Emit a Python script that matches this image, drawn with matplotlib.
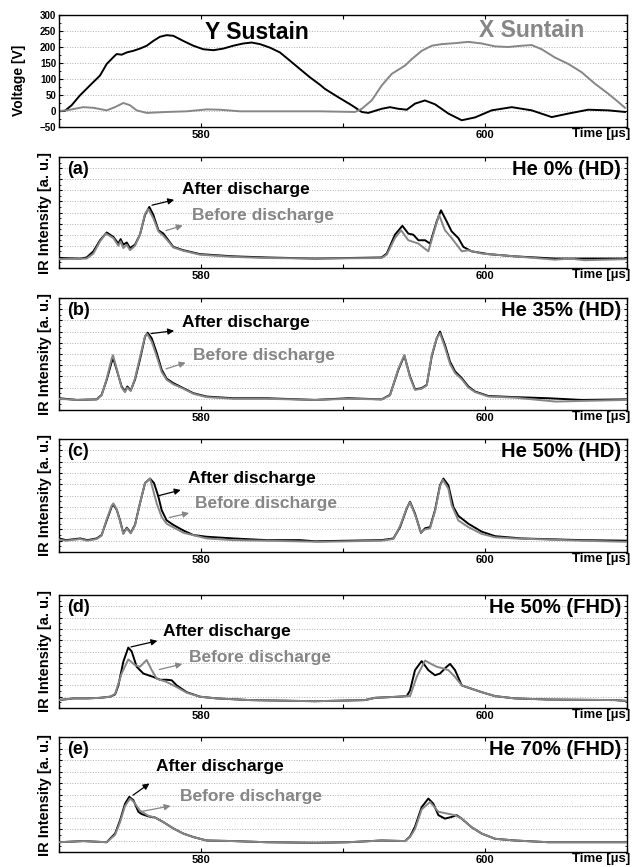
import numpy as np
import matplotlib
matplotlib.use("Agg")
import matplotlib.pyplot as plt
from matplotlib.ticker import MultipleLocator, NullFormatter, FixedFormatter, FixedLocator

plt.rcParams["font.family"] = ["Liberation Sans", "DejaVu Sans"]
plt.rcParams["font.weight"] = "bold"

GRAY = "#868686"

# ---- voltage waveforms (top panel) ----
y_sus_t = [570.0, 570.4, 570.89, 571.48, 572.18, 572.89, 573.36, 573.8, 574.06, 574.42,
           574.77, 575.23, 575.7, 576.18, 576.64, 577.11, 577.58, 578.05, 578.75, 579.46,
           580.16, 580.87, 581.57, 582.27, 582.98, 583.57, 584.15, 584.86, 585.56, 586.27,
           586.97, 587.68, 588.38, 588.73, 589.67, 590.61, 591.32, 591.78, 592.73, 593.31,
           593.89, 594.49, 595.07, 595.77, 596.48, 597.42, 598.36, 599.3, 600.47, 601.88,
           603.29, 604.7, 605.87, 607.27, 608.68, 609.86]
y_sus_v = [0, 0, 18, 49, 80, 111, 147, 167, 178, 176,
           183, 188, 195, 204, 219, 232, 237, 235, 219, 204,
           193, 190, 195, 204, 211, 214, 209, 198, 183, 157,
           131, 105, 82, 69, 43, 18, -3, -6, 7, 12,
           7, 4, 23, 33, 21, -8, -29, -20, 2, 12,
           2, -19, -8, 4, 2, -3]

x_sus_t = [570.0, 570.54, 571.71, 572.42, 573.36, 573.94, 574.53, 575.0, 575.47, 576.18,
           577.58, 578.99, 580.4, 581.34, 582.75, 584.63, 588.38, 590.85, 591.32, 592.02,
           592.73, 593.43, 594.37, 594.84, 595.54, 596.25, 596.95, 597.89, 598.82, 599.77,
           600.7, 601.64, 602.58, 603.29, 603.99, 604.93, 605.87, 606.81, 607.75, 608.68,
           609.39, 609.86]
x_sus_v = [0, 2, 12, 10, 2, 12, 25, 18, 2, -6,
           -3, -1, 5, 4, -1, -1, -1, -3, 7, 33,
           80, 116, 142, 162, 188, 204, 209, 212, 216, 211,
           202, 200, 204, 206, 193, 167, 147, 121, 85, 54,
           28, 10]

# ---- IR intensity, (a) He 0% (HD) ----
a_after_t = [570.0, 571.5, 571.95, 572.42, 572.89, 573.36, 573.83, 574.18, 574.34, 574.53,
             574.77, 575.0, 575.35, 575.7, 576.06, 576.36, 576.64, 577.0, 577.35, 577.7,
             578.05, 578.76, 579.93, 582.28, 584.63, 588.03, 592.72, 593.08, 593.66, 594.18,
             594.6, 594.95, 595.31, 595.78, 596.13, 596.6, 596.9, 597.3, 597.65, 598.12,
             598.48, 599.06, 600.24, 602.11, 604.93, 610.0]
a_after_v = [0.9, 0.85, 0.95, 1.5, 2.5, 3.2, 2.8, 2.2, 2.6, 2.1,
             2.3, 1.8, 2.1, 3.0, 4.8, 5.5, 4.8, 3.4, 3.1, 2.5,
             1.9, 1.6, 1.25, 1.05, 0.95, 0.85, 0.95, 1.3, 3.0, 3.8,
             3.1, 3.0, 2.5, 2.5, 2.2, 4.2, 5.2, 4.2, 3.3, 2.7,
             1.9, 1.5, 1.25, 1.05, 0.85, 0.85]
a_before_t = [570.0, 571.95, 572.42, 572.89, 573.3, 573.83, 574.18, 574.34, 574.53, 574.77,
              575.0, 575.35, 575.7, 576.06, 576.29, 576.64, 577.0, 577.35, 577.7, 578.05,
              578.76, 579.93, 582.28, 584.63, 588.03, 592.72, 593.08, 593.66, 594.09, 594.6,
              595.31, 596.01, 596.76, 597.18, 597.65, 598.36, 598.83, 599.77, 602.11, 604.93,
              606.0, 607.0, 610.0]
a_before_v = [0.8, 0.85, 1.3, 2.4, 3.1, 2.7, 2.0, 2.4, 1.8, 2.1,
              1.6, 2.0, 3.0, 4.9, 5.3, 4.5, 3.3, 2.9, 2.4, 1.85,
              1.55, 1.2, 1.0, 0.9, 0.85, 0.9, 1.2, 2.7, 3.4, 2.5,
              2.2, 1.5, 4.8, 3.4, 2.7, 1.5, 1.6, 1.3, 1.05, 0.75,
              0.85, 0.7, 0.8]

# ---- (b) He 35% (HD) ----
b_after_t = [570.0, 571.25, 572.65, 573.0, 573.36, 573.71, 573.83, 574.06, 574.41, 574.65,
             574.81, 575.05, 575.35, 575.7, 576.06, 576.24, 576.53, 576.88, 577.23, 577.58,
             578.05, 578.76, 579.46, 580.4, 582.28, 584.63, 588.03, 590.38, 592.72, 593.31,
             593.9, 594.32, 594.72, 595.07, 595.54, 595.9, 596.25, 596.6, 596.83, 597.18,
             597.54, 597.89, 598.36, 598.83, 599.3, 600.24, 602.11, 604.46, 606.81, 610.0]
b_after_v = [1.05, 0.9, 0.95, 1.35, 2.7, 4.3, 4.55, 3.6, 2.1, 1.65,
             2.1, 1.75, 2.7, 4.5, 6.55, 6.9, 6.4, 5.1, 3.6, 2.8,
             2.4, 1.95, 1.5, 1.2, 1.05, 1.05, 0.9, 1.05, 0.95, 1.35,
             3.6, 4.85, 3.0, 1.85, 1.95, 2.25, 4.8, 6.4, 7.0, 5.8,
             4.3, 3.45, 2.85, 2.1, 1.65, 1.25, 1.15, 1.05, 0.9, 0.95]
b_before_t = [570.0, 571.25, 572.65, 573.0, 573.36, 573.71, 573.8, 574.06, 574.41, 574.65,
              574.81, 575.05, 575.35, 575.7, 576.06, 576.2, 576.53, 576.88, 577.23, 577.58,
              578.05, 578.76, 579.46, 580.4, 582.28, 584.63, 588.03, 590.38, 592.72, 593.31,
              593.9, 594.32, 594.72, 595.07, 595.54, 595.9, 596.25, 596.6, 596.83, 597.18,
              597.54, 597.89, 598.36, 598.83, 599.3, 600.24, 602.11, 605.0, 606.5, 610.0]
b_before_v = [1.0, 0.9, 0.95, 1.3, 2.8, 4.6, 4.9, 3.7, 2.0, 1.6,
              2.0, 1.7, 2.8, 4.7, 6.6, 6.8, 6.1, 4.8, 3.4, 2.7,
              2.3, 1.9, 1.45, 1.15, 1.0, 1.0, 0.9, 1.0, 0.95, 1.3,
              3.7, 4.9, 2.9, 1.8, 1.9, 2.2, 4.9, 6.4, 6.85, 5.6,
              4.1, 3.3, 2.75, 2.0, 1.6, 1.2, 1.1, 0.75, 0.8, 0.9]

# ---- (c) He 50% (HD) ----
c_after_t = [570.0, 570.5, 571.5, 572.0, 572.65, 573.0, 573.36, 573.71, 573.83, 574.06,
             574.3, 574.53, 574.77, 575.05, 575.35, 575.7, 576.06, 576.41, 576.69, 577.0,
             577.23, 577.58, 578.05, 578.76, 579.46, 580.4, 582.28, 584.63, 586.97, 588.03,
             592.72, 593.55, 594.02, 594.49, 594.72, 595.07, 595.49, 595.78, 596.13, 596.48,
             596.83, 597.07, 597.42, 597.77, 598.12, 598.83, 599.77, 600.71, 602.58, 606.81,
             610.0]
c_after_v = [1.2, 1.05, 1.2, 1.05, 1.2, 1.5, 2.8, 4.0, 4.2, 3.75,
             2.8, 1.65, 2.15, 1.7, 2.4, 4.3, 6.1, 6.5, 6.1, 4.9,
             3.7, 2.8, 2.4, 1.9, 1.5, 1.35, 1.2, 1.05, 1.05, 0.95,
             1.05, 1.2, 2.2, 3.85, 4.45, 3.4, 1.7, 2.1, 2.2, 3.7,
             5.9, 6.5, 5.9, 4.0, 3.2, 2.5, 1.8, 1.4, 1.2, 1.05,
             1.0]
c_before_t = [570.0, 570.5, 571.5, 572.0, 572.65, 573.0, 573.36, 573.71, 573.83, 574.06,
              574.3, 574.53, 574.77, 575.05, 575.35, 575.7, 576.06, 576.41, 576.88, 577.23,
              577.58, 578.76, 580.4, 582.28, 584.63, 588.38, 592.72, 593.55, 594.02, 594.49,
              594.72, 595.07, 595.49, 595.78, 596.13, 596.48, 596.83, 597.03, 597.42, 597.65,
              598.12, 598.83, 599.77, 600.71, 602.11, 606.81, 610.0]
c_before_v = [1.1, 1.0, 1.15, 1.0, 1.15, 1.45, 2.9, 4.1, 4.3, 3.8,
              2.7, 1.6, 2.1, 1.65, 2.35, 4.3, 6.1, 6.5, 4.3, 3.1,
              2.5, 1.7, 1.2, 1.05, 1.0, 0.9, 1.0, 1.15, 2.3, 3.9,
              4.4, 3.3, 1.75, 2.0, 2.1, 3.6, 5.8, 6.4, 5.6, 4.15,
              2.8, 2.2, 1.6, 1.3, 1.2, 1.0, 0.9]

# ---- (d) He 50% (FHD) ----
d_after_t = [570.0, 571.01, 572.0, 572.89, 573.6, 573.95, 574.18, 574.53, 574.88, 575.12,
             575.47, 575.94, 576.64, 577.12, 577.58, 577.94, 578.29, 578.99, 579.93, 581.1,
             583.45, 588.03, 591.55, 592.25, 593.9, 594.49, 594.72, 595.07, 595.54, 596.01,
             596.48, 596.83, 597.3, 597.54, 597.89, 598.36, 599.06, 599.77, 600.71, 602.11,
             604.46, 609.16, 610.0]
d_after_v = [0.7, 0.85, 0.85, 0.9, 1.0, 1.2, 2.0, 4.1, 5.35, 5.0,
             3.65, 3.05, 2.75, 2.5, 2.5, 2.45, 2.0, 1.4, 1.0, 0.85,
             0.7, 0.6, 0.7, 0.9, 1.0, 1.05, 1.55, 3.35, 4.15, 3.35,
             2.9, 3.05, 3.65, 3.9, 3.35, 2.0, 1.7, 1.4, 1.05, 0.85,
             0.75, 0.7, 0.62]
d_before_t = [570.0, 571.01, 572.0, 572.89, 573.6, 573.95, 574.41, 574.88, 575.35, 575.7,
              576.17, 576.53, 576.88, 577.58, 578.29, 578.99, 579.93, 581.1, 583.45, 588.03,
              591.55, 592.25, 593.9, 594.49, 594.72, 595.19, 595.78, 596.13, 596.6, 597.07,
              597.42, 597.89, 598.36, 599.06, 599.77, 600.71, 602.11, 604.46, 609.16, 610.0]
d_before_v = [0.7, 0.85, 0.85, 0.9, 1.0, 1.25, 3.05, 4.3, 3.8, 3.65,
              4.25, 3.35, 2.6, 2.3, 1.85, 1.35, 1.0, 0.85, 0.7, 0.6,
              0.7, 0.9, 1.0, 1.05, 1.05, 2.75, 4.2, 3.95, 3.65, 3.5,
              3.35, 2.75, 2.0, 1.7, 1.4, 1.05, 0.85, 0.75, 0.7, 0.62]

# ---- (e) He 70% (FHD) ----
e_after_t = [570.0, 571.72, 573.36, 573.59, 573.95, 574.3, 574.65, 574.95, 575.24, 575.59,
             575.82, 576.29, 576.76, 577.35, 578.05, 578.76, 579.46, 580.4, 582.28, 584.63,
             588.03, 590.38, 592.72, 594.37, 594.72, 595.07, 595.54, 596.01, 596.36, 596.72,
             597.18, 597.65, 598.0, 598.36, 599.06, 599.77, 600.71, 602.11, 604.46, 610.0]
e_after_v = [0.85, 0.95, 0.85, 1.15, 1.6, 2.75, 4.2, 4.8, 4.5, 3.5,
             3.3, 3.1, 3.0, 2.6, 2.05, 1.6, 1.3, 1.0, 0.95, 0.85,
             0.8, 0.85, 1.0, 0.95, 1.35, 2.2, 3.9, 4.65, 4.2, 3.2,
             2.9, 3.05, 3.2, 2.9, 2.15, 1.6, 1.15, 1.0, 0.85, 0.85]
e_before_t = [570.0, 571.72, 573.36, 573.59, 573.95, 574.3, 574.65, 575.0, 575.24, 575.7,
              576.29, 576.76, 577.35, 578.05, 578.76, 579.46, 580.4, 582.28, 584.63, 588.03,
              590.38, 592.72, 594.37, 594.72, 595.07, 595.54, 596.13, 596.72, 597.3, 597.89,
              598.36, 599.06, 599.77, 600.71, 602.11, 604.46, 610.0]
e_before_v = [0.85, 0.95, 0.85, 1.1, 1.5, 2.6, 4.0, 4.65, 4.4, 3.6,
              3.15, 3.0, 2.6, 2.05, 1.6, 1.3, 1.0, 0.95, 0.85, 0.8,
              0.85, 1.0, 0.95, 1.3, 2.0, 3.7, 4.35, 3.5, 3.35, 3.2,
              2.9, 2.15, 1.6, 1.15, 1.0, 0.85, 0.85]

panel_tags = ["(a)", "(b)", "(c)", "(d)", "(e)"]
panel_titles = ["He 0% (HD)", "He 35% (HD)", "He 50% (HD)", "He 50% (FHD)", "He 70% (FHD)"]

ir_series = [
    (a_after_t, a_after_v, a_before_t, a_before_v),
    (b_after_t, b_after_v, b_before_t, b_before_v),
    (c_after_t, c_after_v, c_before_t, c_before_v),
    (d_after_t, d_after_v, d_before_t, d_before_v),
    (e_after_t, e_after_v, e_before_t, e_before_v),
]

# annotation anchors: (after tail, after head, after text, before tail, before head, before text)
ann = [
    ((576.36, 5.6), (578.3, 6.2), (578.66, 7.1), (577.35, 3.3), (578.9, 3.9), (579.37, 4.7)),
    ((576.29, 6.8), (578.3, 7.1), (578.64, 7.8), (577.35, 3.6), (579.1, 4.3), (579.42, 4.9)),
    ((576.76, 4.9), (578.76, 5.55), (579.06, 6.5), (577.58, 3.0), (579.35, 3.5), (579.58, 4.25)),
    ((574.88, 5.35), (577.12, 6.0), (577.35, 6.75), (576.88, 3.35), (578.87, 3.95), (579.18, 4.5)),
    ((575.05, 4.8), (576.53, 6.1), (576.83, 7.4), (575.7, 3.5), (578.05, 4.05), (578.52, 4.85)),
]

W, H = 635, 867
# pixel boxes (top, bottom) of each axes
boxes = [(15, 127), (157, 268), (298, 410), (439, 552), (595, 708), (737, 852)]
x_left, x_right = 59, 627

fig = plt.figure(figsize=(W / 100, H / 100), dpi=100)
axes = []
for top, bot in boxes:
    ax = fig.add_axes([x_left / W, 1 - bot / H, (x_right - x_left) / W, (bot - top) / H])
    axes.append(ax)


def style_x(ax):
    ax.set_xlim(570, 610)
    ax.xaxis.set_major_locator(FixedLocator([570, 580, 590, 600, 610]))
    ax.xaxis.set_major_formatter(FixedFormatter(["", "580", "", "600", ""]))
    ax.tick_params(axis="x", which="major", direction="in", length=3, width=0.8,
                   top=True, labelsize=8, pad=2)
    ax.text(1.006, -0.01, "Time [µs]", transform=ax.transAxes, ha="right", va="top",
            fontsize=9.5, fontweight="bold")
    for s in ax.spines.values():
        s.set_linewidth(1.0)


# top panel
ax = axes[0]
ax.plot(y_sus_t, y_sus_v, color="black", lw=1.4)
ax.plot(x_sus_t, x_sus_v, color=GRAY, lw=1.4)
ax.set_ylim(-50, 300)
ax.yaxis.set_major_locator(MultipleLocator(50))
ax.yaxis.set_minor_locator(MultipleLocator(25))
ax.tick_params(axis="y", which="both", direction="in", right=True, labelsize=7, pad=2)
ax.tick_params(axis="y", which="major", length=3)
ax.tick_params(axis="y", which="minor", length=1.5)
ax.grid(axis="y", which="major", linestyle=":", color="#b0b0b0", lw=0.7)
ax.set_ylabel("Voltage [V]", fontsize=10, fontweight="bold")
ax.yaxis.set_label_coords(-0.058, 0.42)
ax.text(583.9, 244, "Y Sustain", ha="center", va="center", fontsize=16.5, fontweight="bold")
ax.text(603.3, 250, "X Suntain", ha="center", va="center", fontsize=16.5, fontweight="bold",
        color=GRAY)
style_x(ax)

for i, ax in enumerate(axes[1:]):
    at, av, bt, bv = ir_series[i]
    ax.plot(bt, bv, color=GRAY, lw=1.4, zorder=3)
    ax.plot(at, av, color="black", lw=1.4, zorder=2)
    ax.set_ylim(0, 10)
    ax.yaxis.set_major_locator(MultipleLocator(1))
    ax.yaxis.set_minor_locator(MultipleLocator(0.5))
    ax.yaxis.set_major_formatter(NullFormatter())
    ax.tick_params(axis="y", which="both", direction="in", right=True)
    ax.tick_params(axis="y", which="major", length=2.5)
    ax.tick_params(axis="y", which="minor", length=1.5)
    ax.grid(axis="y", which="major", linestyle=":", color="#b0b0b0", lw=0.7)
    ax.set_ylabel("IR Intensity [a. u.]", fontsize=10.5, fontweight="bold")
    ax.yaxis.set_label_coords(-0.012, 0.5)
    ax.text(0.015, 0.89, panel_tags[i], transform=ax.transAxes, ha="left", va="center",
            fontsize=13, fontweight="bold")
    ax.text(0.99, 0.89, panel_titles[i], transform=ax.transAxes, ha="right", va="center",
            fontsize=14.5, fontweight="bold")
    p1, h1, t1, p2, h2, t2 = ann[i]
    ax.annotate("", xy=h1, xytext=p1,
                arrowprops=dict(arrowstyle="-|>", color="black", lw=0.9, mutation_scale=9))
    ax.text(t1[0], t1[1], "After discharge", ha="left", va="center", fontsize=12.5,
            fontweight="bold")
    ax.annotate("", xy=h2, xytext=p2,
                arrowprops=dict(arrowstyle="-|>", color=GRAY, lw=0.9, mutation_scale=9))
    ax.text(t2[0], t2[1], "Before discharge", ha="left", va="center", fontsize=12.5,
            fontweight="bold", color=GRAY)
    style_x(ax)

fig.savefig("out.png", dpi=100)
